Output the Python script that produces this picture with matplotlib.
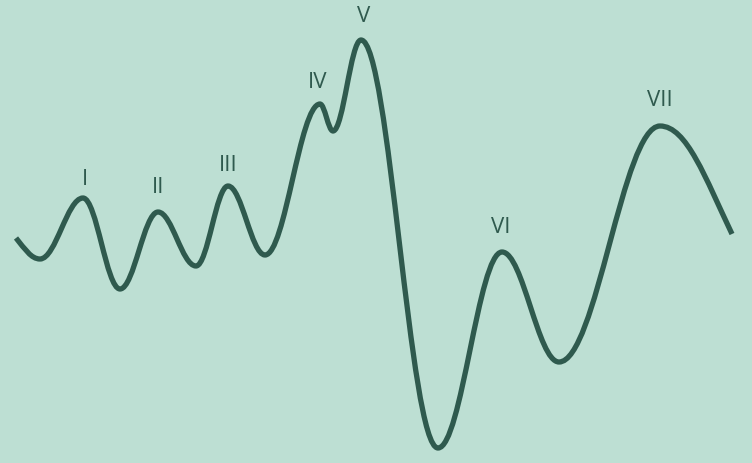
import matplotlib.pyplot as plt
from matplotlib.path import Path
from matplotlib.patches import PathPatch

# waveform turning points (x, y in picture units, y grows downward)
wave_x = [16, 40, 83, 120, 158, 196, 228, 265, 320, 333, 361, 438, 502, 559, 660, 732]
wave_y = [239, 260, 199, 290, 213, 267, 187, 256, 105, 132, 41, 449, 253, 363, 127, 235]

peak_labels = ['I', 'II', 'III', 'IV', 'V', 'VI', 'VII']
label_x = [85, 158, 228, 318, 364, 501, 660]
label_y = [180, 188, 166, 82, 17, 228, 101]

bg = '#bddfd3'
ink = '#2f5a4e'


def wave_path(xs, ys, k=0.37):
    # flat tangent at every turning point, sloped tangent at the two ends
    n = len(xs)
    slopes = [0.0] * n
    slopes[0] = 1.4 * (ys[1] - ys[0]) / (xs[1] - xs[0])
    slopes[-1] = 1.4 * (ys[-1] - ys[-2]) / (xs[-1] - xs[-2])
    verts = [(xs[0], ys[0])]
    codes = [Path.MOVETO]
    for i in range(n - 1):
        dx = xs[i + 1] - xs[i]
        verts += [(xs[i] + k * dx, ys[i] + slopes[i] * k * dx),
                  (xs[i + 1] - k * dx, ys[i + 1] - slopes[i + 1] * k * dx),
                  (xs[i + 1], ys[i + 1])]
        codes += [Path.CURVE4] * 3
    return Path(verts, codes)


fig = plt.figure(figsize=(7.52, 4.64), dpi=100, facecolor=bg)
ax = fig.add_axes([0, 0, 1, 1])
ax.set_facecolor(bg)
ax.set_xlim(0, 752)
ax.set_ylim(464, 0)
ax.axis('off')

ax.add_patch(PathPatch(wave_path(wave_x, wave_y), facecolor='none', edgecolor=ink,
                       lw=3.8, capstyle='butt', joinstyle='round'))

for lab, x, y in zip(peak_labels, label_x, label_y):
    ax.text(x, y, lab, ha='center', va='center', fontsize=16, color=ink,
            family='Open Sans')

fig.savefig('out.png', dpi=100, facecolor=bg)
